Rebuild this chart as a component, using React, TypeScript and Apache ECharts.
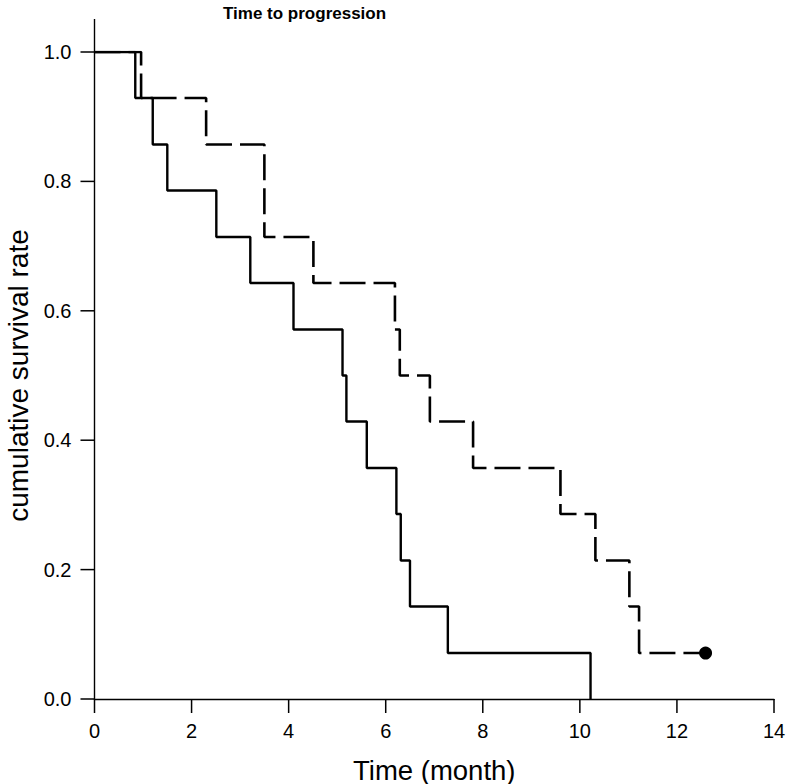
import React, { useEffect, useRef } from "react";
import * as echarts from "echarts";

// Kaplan-Meier step points: [time (month), cumulative survival]
const solidTimes = [0, 0.84, 1.2, 1.5, 2.51, 3.21, 4.1, 5.11, 5.19, 5.61, 6.22, 6.31, 6.5, 7.28, 10.22];
const solidSurv = [1.0, 0.929, 0.857, 0.786, 0.714, 0.643, 0.571, 0.5, 0.429, 0.357, 0.286, 0.214, 0.143, 0.071, 0.0];

const dashedTimes = [0, 0.96, 2.3, 3.5, 4.51, 6.19, 6.29, 6.91, 7.8, 9.6, 10.32, 11.02, 11.22, 12.59];
const dashedSurv = [1.0, 0.929, 0.857, 0.714, 0.643, 0.571, 0.5, 0.429, 0.357, 0.286, 0.214, 0.143, 0.071, 0.071];

const xTicks = [0, 2, 4, 6, 8, 10, 12, 14];
const yTicks = [0, 0.2, 0.4, 0.6, 0.8, 1.0];

const titleText = "Time to progression";
const xName = "Time (month)";
const yName = "cumulative survival rate";

const FONT = "'Liberation Sans', Arial, Helvetica, sans-serif";
const TICK_LEN = 14;

export default function App() {
  const ref = useRef<HTMLDivElement>(null);
  useEffect(() => {
    if (!ref.current) return;
    const chart = echarts.init(ref.current, undefined, { renderer: "svg" });
    const solidData = solidTimes.map((t, i) => [t, solidSurv[i]]);
    const dashedData = dashedTimes.map((t, i) => [t, dashedSurv[i]]);
    const lastDashed = dashedData[dashedData.length - 1];
    const xMin = xTicks[0];
    const xMax = xTicks[xTicks.length - 1];
    const yMin = yTicks[0];
    const yMax = yTicks[yTicks.length - 1];
    chart.setOption({
      animation: false,
      backgroundColor: "#ffffff",
      title: {
        text: titleText,
        left: 218,
        top: 0,
        textStyle: { fontFamily: FONT, fontSize: 17, fontWeight: "bold", color: "#000" },
      },
      grid: { left: 94.5, right: 12, top: 52, bottom: 85, containLabel: false, outerBoundsMode: "none" },
      xAxis: {
        type: "value",
        min: xMin,
        max: xMax,
        interval: xTicks[1] - xTicks[0],
        name: xName,
        nameLocation: "middle",
        nameGap: 57,
        nameTextStyle: { fontFamily: FONT, fontSize: 27.5, color: "#000" },
        axisLine: { show: true, onZero: false, lineStyle: { color: "#000", width: 1.4 } },
        axisTick: { show: false },
        axisLabel: { fontFamily: FONT, fontSize: 20, color: "#000", margin: 22 },
        splitLine: { show: false },
      },
      yAxis: {
        type: "value",
        min: yMin,
        max: yMax,
        interval: 0.2,
        name: yName,
        nameLocation: "middle",
        nameGap: 59,
        nameRotate: 90,
        nameTextStyle: { fontFamily: FONT, fontSize: 28, color: "#000" },
        axisLine: { show: true, onZero: false, lineStyle: { color: "#000", width: 1.4 } },
        axisTick: { show: false },
        axisLabel: {
          fontFamily: FONT,
          fontSize: 20,
          color: "#000",
          margin: 23,
          formatter: (v: number) => v.toFixed(1),
        },
        splitLine: { show: false },
      },
      series: [
        {
          type: "line",
          step: "end",
          data: solidData,
          showSymbol: false,
          lineStyle: { color: "#000", width: 2.4 },
          z: 3,
        },
        {
          type: "line",
          step: "end",
          data: dashedData,
          showSymbol: false,
          lineStyle: { color: "#000", width: 2.6, type: [26, 8] },
          z: 3,
        },
        {
          type: "scatter",
          data: [lastDashed],
          symbol: "circle",
          symbolSize: 13,
          itemStyle: { color: "#000", opacity: 1 },
          z: 4,
        },
      ],
    });
    // axis ticks and the short extension of the y axis above 1.0, placed through the chart's scales
    const graphics: any[] = [];
    const tickStyle = { stroke: "#000", lineWidth: 1.5 };
    xTicks.forEach((v) => {
      const p = chart.convertToPixel({ gridIndex: 0 }, [v, yMin]) as number[];
      if (p) {
        graphics.push({ type: "line", silent: true, z: 10, shape: { x1: p[0], y1: p[1], x2: p[0], y2: p[1] + TICK_LEN }, style: tickStyle });
      }
    });
    yTicks.forEach((v) => {
      const p = chart.convertToPixel({ gridIndex: 0 }, [xMin, v]) as number[];
      if (p) {
        graphics.push({ type: "line", silent: true, z: 10, shape: { x1: p[0] - TICK_LEN, y1: p[1], x2: p[0], y2: p[1] }, style: tickStyle });
      }
    });
    const top = chart.convertToPixel({ gridIndex: 0 }, [xMin, yMax]) as number[];
    if (top) {
      graphics.push({ type: "line", silent: true, z: 10, shape: { x1: top[0], y1: top[1], x2: top[0], y2: top[1] - 33 }, style: { stroke: "#000", lineWidth: 1.4 } });
    }
    chart.setOption({ graphic: graphics });
    return () => chart.dispose();
  }, []);
  return <div ref={ref} style={{ width: 786, height: 784, position: "absolute", left: 0, top: 0 }} />;
}
